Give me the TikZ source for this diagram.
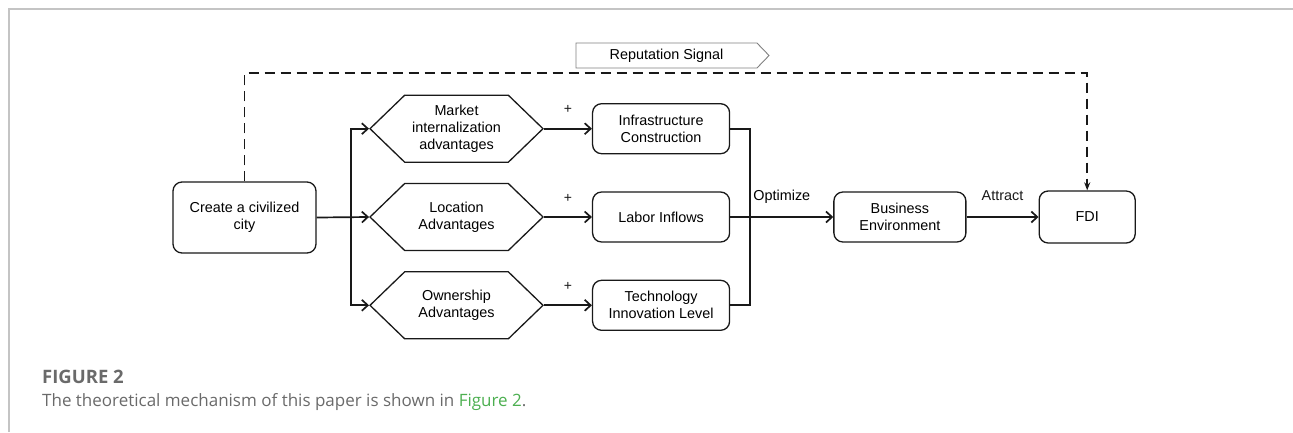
\documentclass[tikz,border=0pt]{standalone}
\usepackage{fontspec}
\setmainfont{Liberation Sans}
\newfontfamily\captionfont{Open Sans}
\usepackage{xcolor}
\usepackage{tikz}
\usetikzlibrary{arrows.meta,positioning,shapes.symbols}
\definecolor{framegrey}{HTML}{C4C4C4}
\definecolor{captiongrey}{HTML}{6A6A6A}
\definecolor{linkgreen}{HTML}{4CAF50}
\newcommand{\boxfont}{\fontsize{14.4}{17}\selectfont}
\tikzset{
  flowbox/.style={
    rectangle, rounded corners=9pt, draw=black!90, line width=1.3pt,
    align=center, font=\boxfont, inner sep=2pt
  },
  hexbox/.style={
    signal, signal to=west and east, signal pointer angle=88,
    draw=black!90, line width=1.3pt, align=center, font=\boxfont,
    minimum width=173pt, minimum height=67pt, inner sep=1pt
  },
  signalbox/.style={
    signal, signal to=east, signal pointer angle=92,
    draw=black!50, line width=0.9pt, font=\boxfont,
    minimum width=193pt, minimum height=25pt, inner sep=2pt
  },
  flowarrow/.style={-{Straight Barb[length=6pt,width=11pt]}, line width=1.7pt, black!90},
  flowline/.style={line width=1.7pt, black!90},
  dasharrow/.style={-{Stealth[length=8pt,width=6pt]}, line width=1.8pt, black!90,
    dash pattern=on 10pt off 6pt},
  edgelabel/.style={font=\boxfont, inner sep=2pt, text height=11pt, text depth=3pt},
  pluslabel/.style={font=\fontsize{14}{16}\selectfont, inner sep=0pt, yshift=19pt}
}

\begin{document}
\begin{tikzpicture}[x=1pt, y=-1pt, node distance=20pt and 48pt]
\useasboundingbox (0,0) rectangle (1293,432);
% page frame
\draw[framegrey, line width=1.5pt] (9,432) -- (9,9) -- (1293,9);

% left column
\node[flowbox, minimum width=143pt, minimum height=71pt] (create) at (244.5,217.5) {Create a civilized\\city};
\node[hexbox] (location) at (456.5,217) {Location\\Advantages};
\node[hexbox, above=of location] (market) {Market\\internalization\\advantages};
\node[hexbox, below=of location] (ownership) {Ownership\\Advantages};

% effects
\node[flowbox, minimum width=137pt, minimum height=50pt, right=of market] (infra) {Infrastructure\\Construction};
\node[flowbox, minimum width=137pt, minimum height=50pt, right=of location] (labor) {Labor Inflows};
\node[flowbox, minimum width=137pt, minimum height=50pt, right=of ownership] (tech) {Technology\\Innovation Level};
\node[flowbox, minimum width=132pt, minimum height=50pt, right=103pt of labor] (business) {Business\\Environment};
\node[flowbox, minimum width=96pt, minimum height=52pt, right=72pt of business] (fdi) {FDI};
\node[signalbox] (reputation) at (666.5,55.5) {Reputation Signal};

\coordinate[right=34pt of create.east] (split);
\coordinate[right=20pt of labor.east] (join);

\draw[flowarrow] (create.east) -- (location.west);
\draw[flowarrow] (split) |- (market.west);
\draw[flowarrow] (split) |- (ownership.west);

\draw[flowarrow] (market.east) -- node[pluslabel] (plusa) {+} (infra.west);
\draw[flowarrow] (location.east) -- node[pluslabel] (plusb) {+} (labor.west);
\draw[flowarrow] (ownership.east) -- node[pluslabel] (plusc) {+} (tech.west);

\draw[flowline] (infra.east) -- ++(20,0) |- (tech.east);
\draw[flowarrow] (labor.east) -- (business.west);
\node[edgelabel, anchor=south west, above right=11pt and 1pt of join] (optimize) {Optimize};
\draw[flowarrow] (business.east) -- node[edgelabel, above=11pt] (attract) {Attract} (fdi.west);

% reputation feedback
\draw[dasharrow] (create.north) -- ++(0,-108) -| (fdi.north);

% caption
\node[anchor=base west, inner sep=0pt, text=captiongrey,
  font=\captionfont\bfseries\fontsize{18.5}{20}\selectfont] (figlabel) at (42,383) {FIGURE 2};
\node[anchor=base west, inner sep=0pt, text=captiongrey,
  font=\captionfont\fontsize{17}{20}\selectfont] (figtext) at (42,406)
  {The theoretical mechanism of this paper is shown in \textcolor{linkgreen}{Figure 2}.};
\end{tikzpicture}
\end{document}
